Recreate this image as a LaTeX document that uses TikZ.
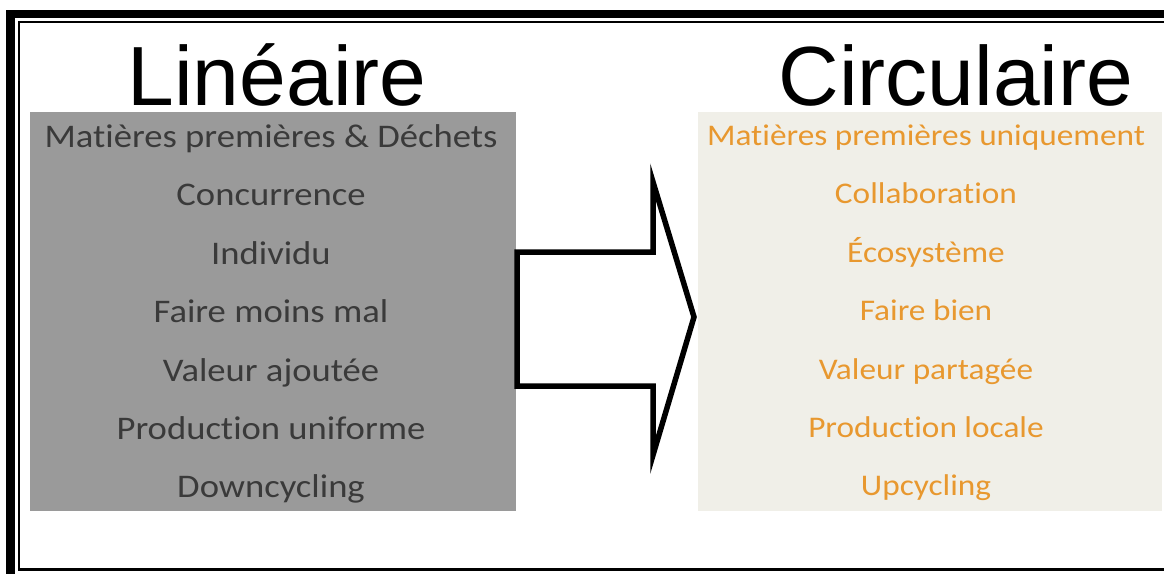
\documentclass[tikz,border=0pt]{standalone}
\usepackage{fontspec}
\setmainfont{Liberation Sans}
\newfontfamily\rowfont[FakeStretch=1.11,Ligatures={NoCommon}]{Carlito}
\usetikzlibrary{positioning}
\definecolor{boxgray}{HTML}{9A9A9A}
\definecolor{rowgray}{HTML}{3A3A3A}
\definecolor{boxbeige}{HTML}{F0EFE8}
\definecolor{roworange}{HTML}{E8982F}

\begin{document}
\begin{tikzpicture}
    [ x = 1pt, y = -1pt
    , title/.style =
      { font = \fontsize{84}{84}\selectfont, inner sep = 0pt, anchor = base }
    , row/.style =
      { inner sep = 0pt, text height = 22pt, text depth = 7pt }
    , lin/.style =
      { font = \rowfont\fontsize{33}{33}\selectfont, text = rowgray }
    , circ/.style =
      { font = \rowfont\fontsize{30}{30}\selectfont, text = roworange }
    , node distance = 29pt
    ]
    \useasboundingbox (0,0) rectangle (1164,573);

    % frame, cut off at right and bottom
    \draw [line width = 8.5pt] (10.5,600) |- (1200,14);
    \draw [line width = 2.4pt] (1200,22) -| (19,569.5) -- (1200,569.5);

    % the two panels
    \fill [boxgray] (30,112) rectangle (516,511);
    \fill [boxbeige] (698,112) rectangle (1162,511);

    \node [title] (lineaire) at (277,105) {Linéaire};
    \node [title] (circulaire) at (956,105) {Circulaire};

    \node [row,lin] (l1) at (271,140) {Matières premières \& Déchets};
    \node [row,lin] (l2) [below=of l1] {Concurrence};
    \node [row,lin] (l3) [below=of l2] {Individu};
    \node [row,lin] (l4) [below=of l3] {Faire moins mal};
    \node [row,lin] (l5) [below=of l4] {Valeur ajoutée};
    \node [row,lin] (l6) [below=of l5] {Production uniforme};
    \node [row,lin] (l7) [below=of l6] {Downcycling};

    \node [row,circ] (r1) at (926,138) {Matières premières uniquement};
    \node [row,circ] (r2) [below=of r1] {Collaboration};
    \node [row,circ] (r3) [below=of r2] {Écosystème};
    \node [row,circ] (r4) [below=of r3] {Faire bien};
    \node [row,circ] (r5) [below=of r4] {Valeur partagée};
    \node [row,circ] (r6) [below=of r5] {Production locale};
    \node [row,circ] (r7) [below=of r6] {Upcycling};

    % big block arrow
    \draw [line width = 5.5pt, fill = white]
      (517,252) -- (653,252) -- (653,182) -- (694,317)
      -- (653,455) -- (653,386) -- (517,386) -- cycle;
\end{tikzpicture}
\end{document}
